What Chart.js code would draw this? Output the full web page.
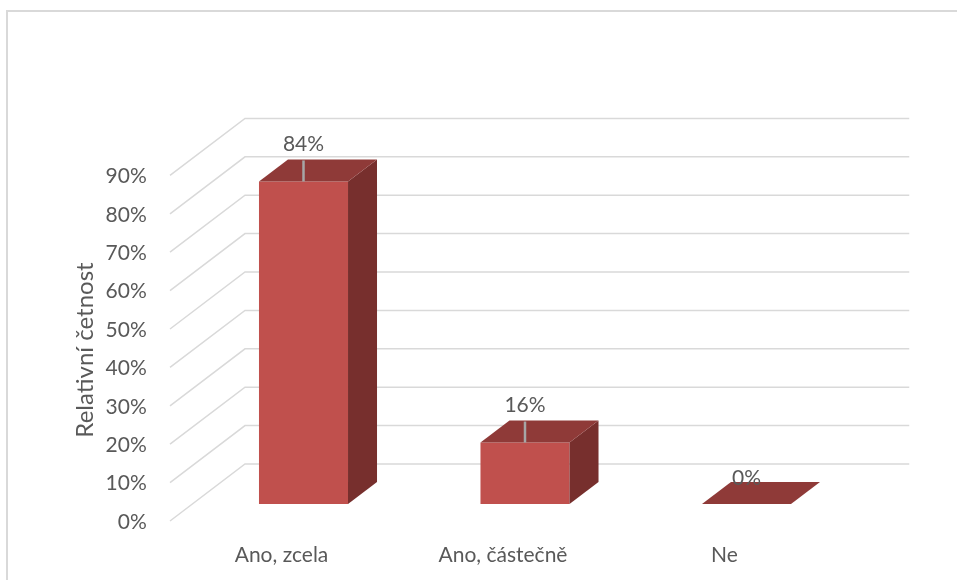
<!DOCTYPE html>
<html>
<head>
<meta charset="utf-8">
<script src="https://cdn.jsdelivr.net/npm/chart.js@4/dist/chart.umd.min.js"></script>
<style>
  body { margin: 0; background: #fff; }
  #wrap { width: 957px; height: 580px; }
</style>
</head>
<body>
<div id="wrap"><canvas id="chart" width="957" height="580"></canvas></div>
<script>
// data
var categories = ['Ano, zcela', 'Ano, částečně', 'Ne'];
var values = [84, 16, 0];
var yTicks = [0, 10, 20, 30, 40, 50, 60, 70, 80, 90];
var yTitle = 'Relativní četnost';

var textColor = '#595959';
var gridColor = '#d9d9d9';
var frontColor = '#c0504d';
var topColor = '#8f3a38';
var sideColor = '#772f2d';

// depth of the bars and of the wall (pseudo 3d like excel)
var barDx = 29, barDy = 22;
var wallDx = 75, wallDy = 57, frontDrop = 17;

Chart.defaults.font.family = 'Lato';

var box3d = {
    id: 'box3d',
    beforeDraw: function (chart) {
        var ctx = chart.ctx;
        ctx.save();
        ctx.strokeStyle = gridColor;
        ctx.lineWidth = 2;
        ctx.beginPath();
        ctx.moveTo(7, 580);
        ctx.lineTo(7, 11);
        ctx.lineTo(957, 11);
        ctx.stroke();
        ctx.restore();
    },
    beforeDatasetsDraw: function (chart) {
        var ctx = chart.ctx;
        var area = chart.chartArea;
        var y = chart.scales.y;
        var fx = area.left - 22.75;
        ctx.save();
        ctx.strokeStyle = gridColor;
        ctx.lineWidth = 1.5;
        yTicks.forEach(function (v) {
            var py = y.getPixelForValue(v);
            ctx.beginPath();
            ctx.moveTo(fx, py + frontDrop);
            ctx.lineTo(fx + wallDx, py + frontDrop - wallDy);
            ctx.lineTo(area.right + 52, py + frontDrop - wallDy);
            ctx.stroke();
        });
        ctx.restore();
    },
    afterDatasetsDraw: function (chart) {
        var ctx = chart.ctx;
        var meta = chart.getDatasetMeta(0);
        ctx.save();
        meta.data.forEach(function (bar, i) {
            var l = bar.x - bar.width / 2;
            var r = bar.x + bar.width / 2;
            var top = bar.y;
            var base = bar.base;

            ctx.fillStyle = sideColor;
            ctx.beginPath();
            ctx.moveTo(r, top);
            ctx.lineTo(r + barDx, top - barDy);
            ctx.lineTo(r + barDx, base - barDy);
            ctx.lineTo(r, base);
            ctx.closePath();
            ctx.fill();

            ctx.fillStyle = topColor;
            ctx.beginPath();
            ctx.moveTo(l, top);
            ctx.lineTo(r, top);
            ctx.lineTo(r + barDx, top - barDy);
            ctx.lineTo(l + barDx, top - barDy);
            ctx.closePath();
            ctx.fill();

            var v = values[i];
            var ly = top - 26;
            if (v > 0) {
                ly = top - 37;
                ctx.strokeStyle = '#a6a6a6';
                ctx.lineWidth = 2.5;
                ctx.beginPath();
                ctx.moveTo(bar.x, top - 21);
                ctx.lineTo(bar.x, top);
                ctx.stroke();
            }
            ctx.fillStyle = textColor;
            ctx.font = '21px Lato';
            ctx.textAlign = 'center';
            ctx.textBaseline = 'middle';
            ctx.fillText(v + '%', bar.x, ly);
        });

        // axis title
        ctx.translate(85, 350);
        ctx.rotate(-Math.PI / 2);
        ctx.fillStyle = textColor;
        ctx.font = '24px Lato';
        ctx.textAlign = 'center';
        ctx.textBaseline = 'middle';
        ctx.fillText(yTitle, 0, 0);
        ctx.restore();
    }
};

new Chart(document.getElementById('chart'), {
    type: 'bar',
    data: {
        labels: categories,
        datasets: [{
            data: values,
            backgroundColor: frontColor,
            barPercentage: 0.402,
            categoryPercentage: 1
        }]
    },
    options: {
        responsive: false,
        animation: false,
        layout: { padding: { top: 158.4, left: 0, right: 99.75, bottom: 0 } },
        plugins: {
            legend: { display: false },
            tooltip: { enabled: false }
        },
        scales: {
            x: {
                grid: { display: false },
                border: { display: false },
                ticks: {
                    color: textColor,
                    font: { size: 21 },
                    padding: 31,
                    labelOffset: -22
                },
                afterFit: function (s) { s.height = 76; }
            },
            y: {
                min: 0,
                max: 90,
                grid: { display: false },
                border: { display: false },
                afterBuildTicks: function (s) {
                    s.ticks = yTicks.map(function (v) { return { value: v }; });
                },
                ticks: {
                    color: textColor,
                    font: { size: 21 },
                    padding: 38,
                    labelOffset: 18,
                    callback: function (v) { return v + '%'; }
                },
                afterFit: function (s) { s.width = 192.75; }
            }
        }
    },
    plugins: [box3d]
});
</script>
</body>
</html>
